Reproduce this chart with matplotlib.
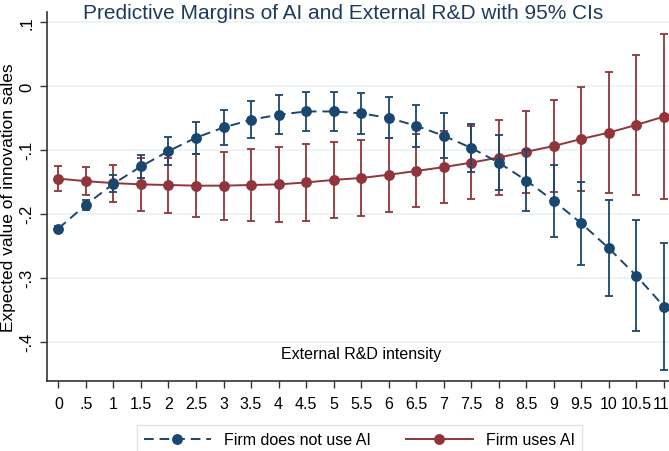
import numpy as np
import matplotlib.pyplot as plt
import matplotlib.transforms as mtransforms
from matplotlib.lines import Line2D

plt.rcParams['font.family'] = ['Liberation Sans', 'DejaVu Sans']

# External R&D intensity grid
x = [0, 0.5, 1, 1.5, 2, 2.5, 3, 3.5, 4, 4.5, 5, 5.5,
     6, 6.5, 7, 7.5, 8, 8.5, 9, 9.5, 10, 10.5, 11]
xtick_labels = ['0', '.5', '1', '1.5', '2', '2.5', '3', '3.5', '4', '4.5', '5', '5.5',
                '6', '6.5', '7', '7.5', '8', '8.5', '9', '9.5', '10', '10.5', '11']

# Firm does not use AI: margin and 95% CI half-width
no_ai = [-0.223, -0.186, -0.153, -0.126, -0.102, -0.081, -0.065, -0.053, -0.045, -0.040, -0.040, -0.043,
         -0.050, -0.0625, -0.078, -0.097, -0.120, -0.148, -0.180, -0.215, -0.254, -0.297, -0.345]
no_ai_ci = [0.004, 0.008, 0.013, 0.018, 0.022, 0.025, 0.028, 0.029, 0.031, 0.031, 0.031, 0.032,
            0.032, 0.033, 0.035, 0.038, 0.043, 0.048, 0.056, 0.065, 0.075, 0.087, 0.099]

# Firm uses AI: margin and 95% CI half-width
ai = [-0.145, -0.149, -0.152, -0.154, -0.155, -0.156, -0.156, -0.155, -0.154, -0.151, -0.147, -0.144,
      -0.139, -0.133, -0.127, -0.120, -0.112, -0.103, -0.094, -0.083, -0.073, -0.061, -0.048]
ai_ci = [0.020, 0.022, 0.029, 0.041, 0.043, 0.049, 0.053, 0.057, 0.059, 0.060, 0.060, 0.060,
         0.058, 0.057, 0.056, 0.057, 0.059, 0.064, 0.072, 0.081, 0.095, 0.110, 0.129]

yticks = [0.1, 0, -0.1, -0.2, -0.3, -0.4]
ytick_labels = ['.1', '0', '-.1', '-.2', '-.3', '-.4']

blue = '#1a476f'
red = '#90353b'
dash = (0, (5, 3))

fig = plt.figure(figsize=(6.69, 4.52), dpi=100)
ax = fig.add_axes([0.0698, 0.1555, 0.935, 0.815])

ax.errorbar(x, no_ai, yerr=no_ai_ci, color=blue, ecolor=blue, lw=1.4, ls=dash,
            marker='o', ms=6.8, capsize=2.8, elinewidth=1.3, capthick=1.3, zorder=3)
ax.errorbar(x, ai, yerr=ai_ci, color=red, ecolor=red, lw=1.4, ls='-',
            marker='o', ms=6.8, capsize=2.8, elinewidth=1.3, capthick=1.3, zorder=2)

ax.set_xlim(-0.212, 11.15)
ax.set_ylim(-0.461, 0.115)
ax.set_xticks(x)
ax.set_xticklabels(xtick_labels, fontsize=11.5)
ax.set_yticks(yticks)
ax.set_yticklabels(ytick_labels, fontsize=12, rotation=90, va='center')
ax.tick_params(axis='both', length=5, color='#333333', width=1)
ax.tick_params(axis='x', pad=6)
ax.tick_params(axis='y', pad=4)

# nudge the last tick label so it stays inside the canvas
last = ax.get_xticklabels()[-1]
last.set_transform(last.get_transform() + mtransforms.ScaledTranslation(-3 / 100, 0, fig.dpi_scale_trans))

for s in ['top', 'right']:
    ax.spines[s].set_visible(False)
for s in ['left', 'bottom']:
    ax.spines[s].set_color('#333333')
    ax.spines[s].set_linewidth(1.2)

ax.grid(axis='y', color='#eaf2f3', lw=1.2, zorder=0)
ax.set_axisbelow(True)

ax.set_ylabel('Expected value of innovation sales', fontsize=12.5, labelpad=2)
ax.text(5.5, -0.419, 'External R&D intensity', ha='center', va='center', fontsize=11.5)

fig.text(0.513, 0.970, 'Predictive Margins of AI and External R&D with 95% CIs',
         ha='center', va='center', fontsize=15, color='#1e3b5e')

handles = [Line2D([], [], color=blue, ls=dash, lw=1.4, marker='o', ms=6.8),
           Line2D([], [], color=red, ls='-', lw=1.4, marker='o', ms=6.8)]
leg = fig.legend(handles, ['Firm does not use AI', 'Firm uses AI'],
                 loc='upper center', bbox_to_anchor=(0.537, 0.075), ncol=2, fontsize=11.5,
                 frameon=True, fancybox=False, edgecolor='#dddddd', handlelength=4.2,
                 columnspacing=2.2, borderpad=0.45, handletextpad=0.8)
leg.get_frame().set_linewidth(1.0)

fig.savefig('out.png', dpi=100)
